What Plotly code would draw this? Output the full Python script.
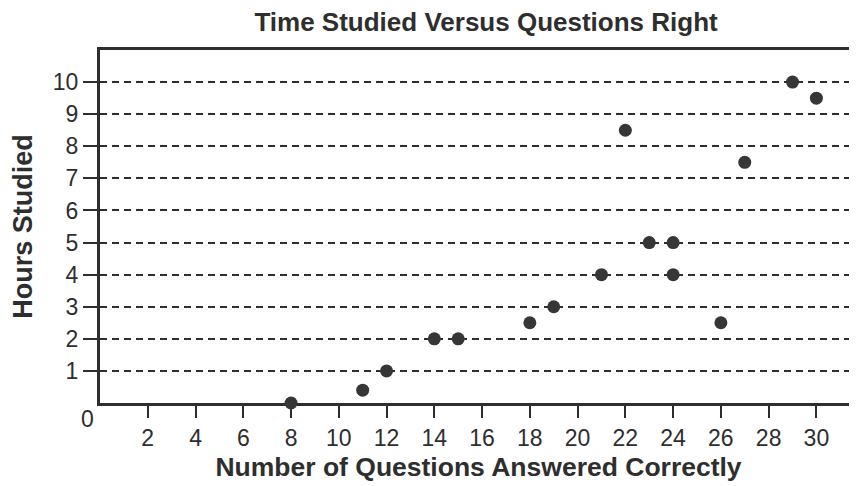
import plotly.graph_objects as go

questions_right = [8, 11, 12, 14, 15, 18, 19, 21, 22, 23, 24, 24, 26, 27, 29, 30]
hours_studied = [0, 0.4, 1, 2, 2, 2.5, 3, 4, 8.5, 5, 5, 4, 2.5, 7.5, 10, 9.5]
x_ticks = list(range(2, 31, 2))
y_ticks = list(range(1, 11))

ink = "#2e2e2e"
font_family = "Liberation Sans, Arial, sans-serif"

fig = go.Figure()
fig.add_trace(go.Scatter(
    x=questions_right, y=hours_studied, mode="markers",
    marker=dict(size=13, color="#363636"),
    cliponaxis=False, showlegend=False,
))

fig.update_layout(
    width=849, height=478,
    margin=dict(l=92, r=0, t=42, b=83),
    paper_bgcolor="white", plot_bgcolor="white",
    font=dict(family=font_family, color=ink),
    title=dict(text="<b>Time Studied Versus Questions Right</b>",
               x=0.51, xref="paper", xanchor="center",
               y=1 - 14 / 478, yref="container", yanchor="middle",
               font=dict(size=26, color=ink)),
    xaxis=dict(
        range=[0, 31.7], tickvals=x_ticks, ticktext=[str(v) for v in x_ticks],
        ticks="outside", ticklen=12, tickwidth=2, tickcolor=ink,
        showline=True, linewidth=3, linecolor=ink, mirror=True,
        showgrid=False, zeroline=False, layer="below traces",
        tickfont=dict(size=23, color=ink),
        title=dict(text="<b>Number of Questions Answered Correctly</b>",
                   font=dict(size=26.5, color=ink), standoff=8),
    ),
    yaxis=dict(
        range=[0, 11], tickvals=y_ticks, ticktext=[str(v) for v in y_ticks],
        ticks="outside", ticklen=14, tickwidth=2, tickcolor=ink,
        showline=True, linewidth=3, linecolor=ink,
        showgrid=True, gridcolor=ink, gridwidth=1.5, griddash="7px,5px",
        zeroline=False, layer="below traces",
        tickfont=dict(size=23, color=ink),
        title=dict(text="<b>Hours Studied</b>",
                   font=dict(size=27, color=ink), standoff=16),
    ),
)

fig.add_annotation(x=0, y=0, xref="x", yref="y", text="0", showarrow=False,
                   xanchor="right", yanchor="top", xshift=-4, yshift=-1,
                   font=dict(size=23, color=ink))

fig.write_html("out.html")
